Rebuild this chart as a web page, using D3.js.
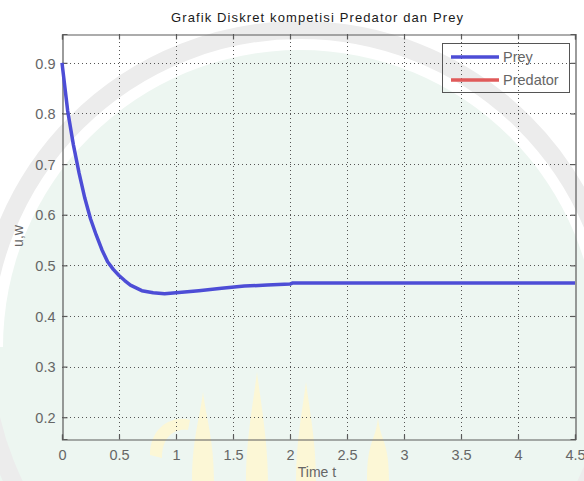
<!DOCTYPE html>
<html>
<head>
<meta charset="utf-8">
<script src="https://cdn.jsdelivr.net/npm/d3@7"></script>
<style>
  html, body { margin: 0; padding: 0; background: #ffffff; }
  svg { display: block; }
  text { font-family: "Liberation Sans", Arial, sans-serif; }
</style>
</head>
<body>
<svg id="chart" width="584" height="481"></svg>
<script>
// Discrete predator–prey competition: prey density u over time t
const timeT = [0, 0.05, 0.1, 0.15, 0.2, 0.25, 0.3, 0.35, 0.4, 0.45, 0.5, 0.55, 0.6, 0.7, 0.8, 0.9, 1.0,
               1.2, 1.4, 1.6, 1.8, 2.0, 2.02, 2.5, 3.0, 3.5, 4.0, 4.5];
const preyU = [0.9, 0.805, 0.738, 0.682, 0.633, 0.592, 0.560, 0.531, 0.507, 0.492, 0.480, 0.470, 0.461, 0.450, 0.446, 0.444, 0.446,
               0.450, 0.455, 0.459, 0.461, 0.463, 0.465, 0.465, 0.465, 0.465, 0.465, 0.465];
const seriesNames = ["Prey", "Predator"];
const seriesColors = ["#4d4dd6", "#e05a5a"];
const xTicks = [0, 0.5, 1, 1.5, 2, 2.5, 3, 3.5, 4, 4.5];
const yTicks = [0.2, 0.3, 0.4, 0.5, 0.6, 0.7, 0.8, 0.9];
const titleText = "Grafik Diskret kompetisi Predator dan Prey";
const xLabel = "Time t";
const yLabel = "u,w";

const svg = d3.select("#chart");
const L = 62, R = 575, T = 34, B = 439;

// faint background emblem
const wm = svg.append("g");
wm.append("rect").attr("width", 584).attr("height", 481).attr("fill", "#ffffff");
wm.append("rect").attr("x", 0).attr("y", 347).attr("width", 584).attr("height", 134).attr("fill", "#edf6f1");
wm.append("circle").attr("cx", 300).attr("cy", 347).attr("r", 317)
  .attr("fill", "none").attr("stroke", "#ececec").attr("stroke-width", 18);
wm.append("circle").attr("cx", 300).attr("cy", 347).attr("r", 297).attr("fill", "#edf6f1");
const flame = (x, top, w) => `M${x - w / 2},481 C${x - w / 2},440 ${x - 3},${top + 25} ${x},${top} C${x + 3},${top + 25} ${x + w / 2},440 ${x + w / 2},481 Z`;
[[203, 392, 22], [257, 372, 22], [306, 382, 20], [378, 418, 22]].forEach(([x, t, w]) => {
  wm.append("path").attr("d", flame(x, t, w)).attr("fill", "#fcf7d6");
});
wm.append("path").attr("d", "M150,455 C150,425 175,415 190,420 L188,430 C175,428 162,436 162,458 Z").attr("fill", "#fcf7d6");

const x = d3.scaleLinear().domain([0, 4.5]).range([L, R]);
const y = d3.scaleLinear().domain([0.157, 0.957]).range([B, T]);

const axisColor = "#5a5a5a";
const labelColor = "#666666";

// grid
const grid = svg.append("g");
grid.selectAll(".gx").data(xTicks.filter(v => v > 0 && v < 4.5)).join("line")
  .attr("x1", d => Math.round(x(d)) + 0.5).attr("x2", d => Math.round(x(d)) + 0.5)
  .attr("y1", T).attr("y2", B)
  .attr("stroke", "#555").attr("stroke-width", 1).attr("stroke-dasharray", "1,3");
grid.selectAll(".gy").data(yTicks).join("line")
  .attr("y1", d => Math.round(y(d)) + 0.5).attr("y2", d => Math.round(y(d)) + 0.5)
  .attr("x1", L).attr("x2", R)
  .attr("stroke", "#555").attr("stroke-width", 1).attr("stroke-dasharray", "1,3");

// axes (box with inward ticks on every side)
const tickLen = 5;
const axB = svg.append("g").attr("transform", `translate(0,${B + 0.5})`)
  .call(d3.axisBottom(x).tickValues(xTicks).tickSize(-tickLen).tickPadding(10).tickFormat(d3.format("")));
const axT = svg.append("g").attr("transform", `translate(0,${T + 0.5})`)
  .call(d3.axisTop(x).tickValues(xTicks).tickSize(-tickLen).tickFormat(""));
const axL = svg.append("g").attr("transform", `translate(${L + 0.5},0)`)
  .call(d3.axisLeft(y).tickValues(yTicks).tickSize(-tickLen).tickPadding(7).tickFormat(d3.format(".1f")));
const axR = svg.append("g").attr("transform", `translate(${R + 0.5},0)`)
  .call(d3.axisRight(y).tickValues(yTicks).tickSize(-tickLen).tickFormat(""));
[axB, axT, axL, axR].forEach(a => {
  a.select(".domain").attr("stroke", axisColor).attr("stroke-width", 1.2);
  a.selectAll(".tick line").attr("stroke", axisColor).attr("stroke-width", 1.2);
  a.selectAll(".tick text").attr("fill", labelColor)
    .style("font-family", "'Liberation Sans', Arial, sans-serif").style("font-size", "14.5px");
});
axB.selectAll(".tick text").attr("dy", "0.71em");
axL.selectAll(".tick text").attr("dy", "0.36em");

// series line
const line = d3.line().x((d, i) => x(timeT[i])).y(d => y(d));
svg.append("path").datum(preyU)
  .attr("d", line)
  .attr("fill", "none")
  .attr("stroke", seriesColors[0])
  .attr("stroke-width", 3.5)
  .attr("stroke-linejoin", "round");

// legend
const lg = svg.append("g");
lg.append("rect").attr("x", 442.5).attr("y", 43.5).attr("width", 127).attr("height", 49)
  .attr("fill", "none").attr("stroke", "#555").attr("stroke-width", 1);
seriesNames.forEach((name, i) => {
  const ly = 57 + i * 23;
  lg.append("line").attr("x1", 451).attr("x2", 499).attr("y1", ly).attr("y2", ly)
    .attr("stroke", seriesColors[i]).attr("stroke-width", 3.5);
  lg.append("text").attr("x", 503).attr("y", ly).attr("dy", "0.36em")
    .attr("fill", labelColor).style("font-size", "14.5px").text(name);
});

// titles
svg.append("text").attr("x", 317).attr("y", 22).attr("text-anchor", "middle")
  .attr("fill", "#1a1a1a").style("font-size", "13px")
  .attr("textLength", 292).attr("lengthAdjust", "spacing").text(titleText);
svg.append("text").attr("x", 317).attr("y", 477).attr("text-anchor", "middle")
  .attr("fill", labelColor).style("font-size", "14px").text(xLabel);
svg.append("text").attr("transform", "translate(23,236) rotate(-90)").attr("text-anchor", "middle")
  .attr("fill", labelColor).style("font-size", "14px").text(yLabel);
</script>
</body>
</html>
